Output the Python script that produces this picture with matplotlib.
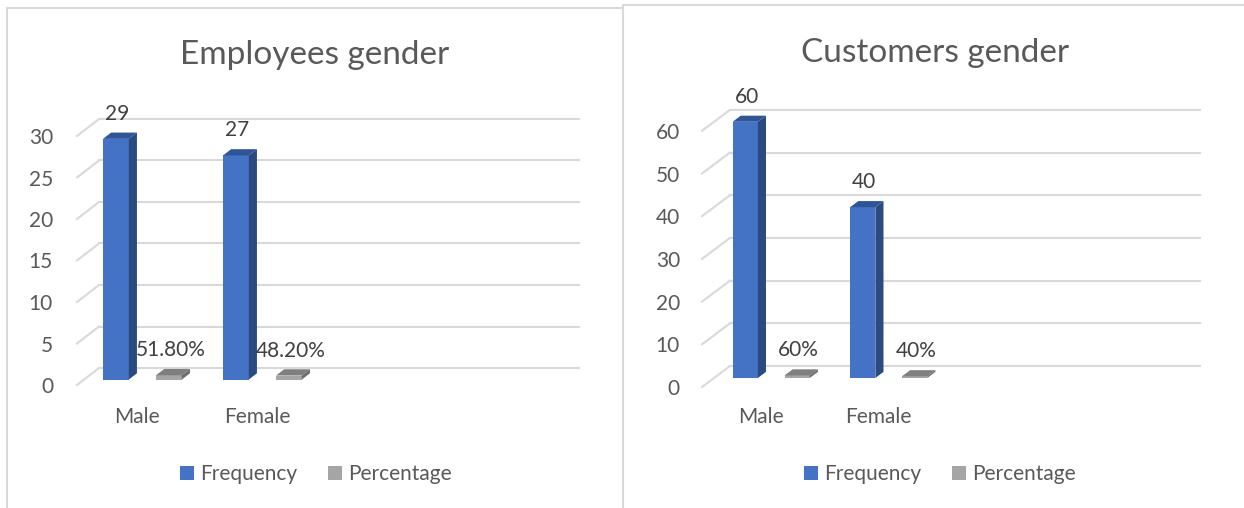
import matplotlib
matplotlib.use('Agg')
import matplotlib.pyplot as plt
import numpy as np
from matplotlib.lines import Line2D

W, H = 1244, 508
plt.rcParams['font.family'] = ['Lato', 'DejaVu Sans']

# data
categories = ['Male', 'Female']
emp_freq = [29, 27]
emp_pct = [0.518, 0.482]
emp_pct_labels = ['51.80%', '48.20%']
emp_ticks = [0, 5, 10, 15, 20, 25, 30]
cust_freq = [60, 40]
cust_pct = [0.60, 0.40]
cust_pct_labels = ['60%', '40%']
cust_ticks = [0, 10, 20, 30, 40, 50, 60]

TXT = '#595959'
GRID = '#D9D9D9'
BLUE = ('#4472C4', '#2F5597', '#2A4A80')   # front, top, side
GREY = ('#A5A5A5', '#7F7F7F', '#6E6E6E')

fig = plt.figure(figsize=(W / 100, H / 100), dpi=100)


def fx(px):
    return px / W


def fy(py):
    return 1 - py / H


def bars3d(ax, xs, vals, w, f, b, ddx, ddy, cols, label):
    # front face via bar, then top and side faces pushed back in depth
    y0 = f * ddy
    xs = np.asarray(xs) + f * ddx
    cont = ax.bar(xs, vals, width=w, bottom=y0, align='edge', color=cols[0],
                  zorder=3, label=label, linewidth=0)
    bx, by = b * ddx, b * ddy
    for x, v in zip(xs, vals):
        top = v + y0
        ax.fill([x, x + w, x + w + bx, x + bx], [top, top, top + by, top + by],
                color=cols[1], zorder=3, lw=0)
        ax.fill([x + w, x + w + bx, x + w + bx, x + w], [y0, y0 + by, top + by, top],
                color=cols[2], zorder=3, lw=0)
    return cont, xs


def panel(title, title_xy, freq, pct, pct_labels, ticks, front_x, cat_px, zero_y,
          unit_px, depth, f, b, ytick_pad, xlab_pad, legend_xy):
    ncat = 4
    dx, dy = depth
    ymax = ticks[-1]
    ddx = dx / cat_px
    ddy = dy / unit_px
    ax = fig.add_axes([fx(front_x), fy(zero_y),
                       (ncat * cat_px + dx) / W, (ymax * unit_px + dy) / H])
    ax.set_xlim(0, ncat + ddx)
    ax.set_ylim(0, ymax + ddy)
    ax.patch.set_alpha(0)
    for s in ax.spines.values():
        s.set_visible(False)

    for v in ticks:
        ax.plot([0, ddx], [v, v + ddy], color=GRID, lw=1.5, zorder=1, clip_on=False)
        ax.plot([ddx, ncat + ddx], [v + ddy, v + ddy], color=GRID, lw=1.5, zorder=1,
                clip_on=False)

    idx = np.arange(len(freq))
    w = 0.215
    fb, fxs = bars3d(ax, idx + 0.158, freq, w, f, b, ddx, ddy, BLUE, 'Frequency')
    pb, pxs = bars3d(ax, idx + 0.60, pct, w, f, b, ddx, ddy, GREY, 'Percentage')

    for x, v in zip(fxs, freq):
        ax.annotate(str(v), (x + w / 2, v + f * ddy), xytext=(1, 18),
                    textcoords='offset points', ha='center', va='center',
                    fontsize=15, color='#404040', zorder=5)
    for x, v, t in zip(pxs, pct, pct_labels):
        ax.annotate(t, (x + w / 2, v + f * ddy), xytext=(1, 18),
                    textcoords='offset points', ha='center', va='center',
                    fontsize=15, color='#404040', zorder=5)

    ax.set_yticks(ticks)
    ax.set_xticks(idx + 0.5)
    ax.set_xticklabels(categories, va='center')
    ax.tick_params(axis='y', length=0, pad=ytick_pad * 0.72, labelsize=15, labelcolor=TXT)
    ax.tick_params(axis='x', length=0, pad=xlab_pad * 0.72, labelsize=15, labelcolor=TXT)

    ax.legend([fb, pb], ['Frequency', 'Percentage'], loc='center',
              bbox_to_anchor=(fx(legend_xy[0]), fy(legend_xy[1])),
              bbox_transform=fig.transFigure, ncol=2, frameon=False, fontsize=15,
              handlelength=0.67, handleheight=0.67, handletextpad=0.3,
              columnspacing=1.5, labelcolor=TXT)

    fig.text(fx(title_xy[0]), fy(title_xy[1]), title, ha='center', va='baseline',
             fontsize=24, color=TXT)


panel('Employees gender', (315, 64), emp_freq, emp_pct, emp_pct_labels, emp_ticks,
      front_x=77, cat_px=120, zero_y=385, unit_px=8.3, depth=(22, 17), f=0.32, b=0.37,
      ytick_pad=24, xlab_pad=32, legend_xy=(316, 474))
panel('Customers gender', (935, 62), cust_freq, cust_pct, cust_pct_labels, cust_ticks,
      front_x=702, cat_px=117.5, zero_y=387, unit_px=4.27, depth=(28, 21), f=0.43, b=0.29,
      ytick_pad=22, xlab_pad=30, legend_xy=(940, 474))

# chart frames
for xs, ys in [([7, 7, 622], [510, 8, 8]), ([623, 623, 1246], [510, 5, 5])]:
    fig.add_artist(Line2D([fx(x) for x in xs], [fy(y) for y in ys], color=GRID, lw=1.5))

fig.savefig('out.png', dpi=100)
